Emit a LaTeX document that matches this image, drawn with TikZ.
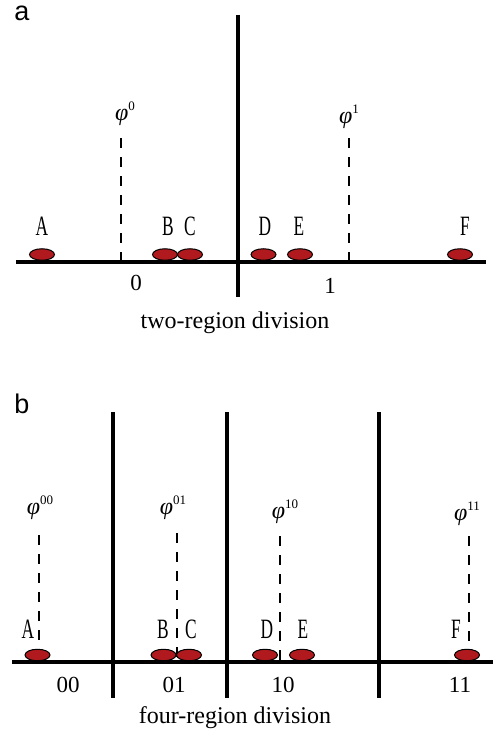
\documentclass[tikz,border=0pt]{standalone}
\usepackage{fontspec}
\setmainfont{Liberation Serif}
\newfontfamily\panelfont{Liberation Sans}
\usetikzlibrary{shapes.geometric}
\definecolor{dotred}{HTML}{B01A1E}
\tikzset{
  sep/.style={line width=4.6pt},
  base/.style={line width=4.8pt},
  guide/.style={line width=1.6pt, dash pattern=on 10pt off 9pt},
  pt/.style={ellipse, draw=black, line width=1pt, fill=dotred, minimum width=25pt, minimum height=11.5pt, inner sep=0pt},
  letter/.style={anchor=base, inner sep=0pt, font=\fontsize{28}{28}\selectfont},
  phil/.style={inner sep=0pt, font=\fontsize{24}{24}\selectfont},
  code/.style={anchor=base, inner sep=0pt, font=\fontsize{23}{23}\selectfont},
  caption/.style={anchor=base, inner sep=0pt, font=\fontsize{24}{24}\selectfont},
  panel/.style={inner sep=0pt, font=\panelfont\fontsize{27}{27}\selectfont},
}
\newcommand{\cond}[1]{\scalebox{0.62}[1]{#1}}
\newcommand{\phisup}[1]{\textit{φ}\raisebox{0.4em}{\fontsize{13}{13}\selectfont #1}}
\begin{document}
\begin{tikzpicture}[x=1pt,y=-1pt]
\useasboundingbox (0,0) rectangle (495,733);
% ---------- panel a ----------
\node[panel] (la) at (22,13) {a};
\coordinate (aL) at (16,262);
\coordinate (aR) at (486,262);
\coordinate (aS1t) at (238,15);
\coordinate (aS1b) at (238,297);
\node[phil] (aphi0) at (125,114) {\phisup{0}};
\node[phil] (aphi1) at (349,117) {\phisup{1}};
\coordinate (ag0t) at (121,138);
\coordinate (ag0b) at (121,262);
\coordinate (ag1t) at (349,138);
\coordinate (ag1b) at (349,262);
\draw[guide] (ag0t) -- (ag0b);
\draw[guide] (ag1t) -- (ag1b);
\draw[base] (aL) -- (aR);
\draw[sep] (aS1t) -- (aS1b);
\node[pt] (aA) at (42,254.5) {};
\node[pt] (aB) at (165,254.5) {};
\node[pt] (aC) at (190,254.5) {};
\node[pt] (aD) at (263.5,254.5) {};
\node[pt] (aE) at (300,254.5) {};
\node[pt] (aF) at (460,254.5) {};
\node[letter] (tA) at (42,235) {\cond{A}};
\node[letter] (tB) at (168,235) {\cond{B}};
\node[letter] (tC) at (190,235) {\cond{C}};
\node[letter] (tD) at (265,235) {\cond{D}};
\node[letter] (tE) at (299,235) {\cond{E}};
\node[letter] (tF) at (465,235) {\cond{F}};
\node[code] (c0) at (136,290) {0};
\node[code] (c1) at (330,293) {1};
\node[caption] (capa) at (235,328) {two-region division};
% ---------- panel b ----------
\node[panel] (lb) at (22,404) {b};
\coordinate (bL) at (12,662);
\coordinate (bR) at (493,662);
\coordinate (bS1t) at (113,412);
\coordinate (bS1b) at (113,698);
\coordinate (bS2t) at (227,412);
\coordinate (bS2b) at (227,698);
\coordinate (bS3t) at (379,412);
\coordinate (bS3b) at (379,698);
\node[phil] (bphi00) at (40,508) {\phisup{00}};
\node[phil] (bphi01) at (173,508) {\phisup{01}};
\node[phil] (bphi10) at (285,512) {\phisup{10}};
\node[phil] (bphi11) at (467,514) {\phisup{11}};
\coordinate (bg0t) at (39,535);
\coordinate (bg0b) at (39,662);
\coordinate (bg1t) at (177,533);
\coordinate (bg1b) at (177,662);
\coordinate (bg2t) at (280,536);
\coordinate (bg2b) at (280,662);
\coordinate (bg3t) at (469,536);
\coordinate (bg3b) at (469,662);
\draw[guide] (bg0t) -- (bg0b);
\draw[guide] (bg1t) -- (bg1b);
\draw[guide] (bg2t) -- (bg2b);
\draw[guide] (bg3t) -- (bg3b);
\draw[base] (bL) -- (bR);
\draw[sep] (bS1t) -- (bS1b);
\draw[sep] (bS2t) -- (bS2b);
\draw[sep] (bS3t) -- (bS3b);
\node[pt] (bA) at (37.5,655) {};
\node[pt] (bB) at (163.5,655) {};
\node[pt] (bC) at (189,655) {};
\node[pt] (bD) at (265,655) {};
\node[pt] (bE) at (302,655) {};
\node[pt] (bF) at (467,655) {};
\node[letter] (sA) at (28,638) {\cond{A}};
\node[letter] (sB) at (163,638) {\cond{B}};
\node[letter] (sC) at (191,638) {\cond{C}};
\node[letter] (sD) at (267,638) {\cond{D}};
\node[letter] (sE) at (303,638) {\cond{E}};
\node[letter] (sF) at (456,638) {\cond{F}};
\node[code] (c00) at (68,692) {00};
\node[code] (c01) at (174,692) {01};
\node[code] (c10) at (283,692) {10};
\node[code] (c11) at (460,692) {11};
\node[caption] (capb) at (235,723) {four-region division};
\end{tikzpicture}
\end{document}
